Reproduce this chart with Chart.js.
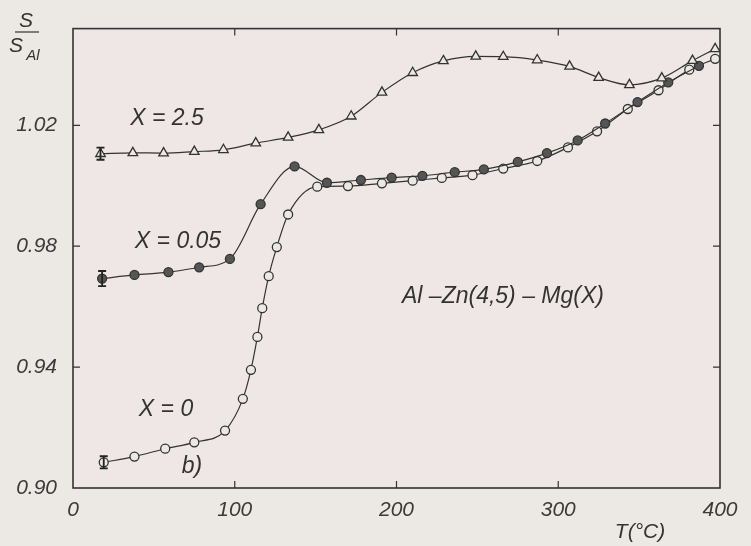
<!DOCTYPE html>
<html>
<head>
<meta charset="utf-8">
<script src="https://cdn.jsdelivr.net/npm/chart.js@4.4.1/dist/chart.umd.min.js"></script>
<style>
  body { margin: 0; background: #ece9e5; }
  canvas { display: block; }
</style>
</head>
<body>
<canvas id="sChart" width="751" height="546"></canvas>
<script>
// tick labels
const xTicks = [0, 100, 200, 300, 400];
const yTicks = [0.90, 0.94, 0.98, 1.02];

// X = 2.5 (triangles)
const tT25 = [17, 37, 56, 75, 93, 113, 133, 152, 172, 191, 210, 229, 249, 266, 287, 307, 325, 344, 364, 383, 397];
const s25 = [1.0106, 1.0109, 1.0108, 1.0113, 1.0119, 1.0141, 1.0160, 1.0185, 1.0230, 1.0309, 1.0374, 1.0413, 1.0428, 1.0427, 1.0416, 1.0395, 1.0358, 1.0334, 1.0356, 1.0414, 1.0453];

// X = 0.05 (filled circles)
const tT005 = [18, 38, 59, 78, 97, 116, 137, 157, 178, 197, 216, 236, 254, 275, 293, 312, 329, 349, 368, 387];
const s005 = [0.9693, 0.9705, 0.9714, 0.9730, 0.9758, 0.9939, 1.0064, 1.0010, 1.0019, 1.0027, 1.0033, 1.0045, 1.0054, 1.0079, 1.0108, 1.0150, 1.0206, 1.0277, 1.0342, 1.0397];

// X = 0 (open circles)
const tT0 = [19, 38, 57, 75, 94, 105, 110, 114, 117, 121, 126, 133, 151, 170, 191, 210, 228, 247, 266, 287, 306, 324, 343, 362, 381, 397];
const s0 = [0.9085, 0.9104, 0.9130, 0.9151, 0.9190, 0.9295, 0.9391, 0.9500, 0.9595, 0.9701, 0.9797, 0.9905, 0.9997, 0.9999, 1.0008, 1.0017, 1.0026, 1.0035, 1.0057, 1.0082, 1.0127, 1.0180, 1.0254, 1.0316, 1.0384, 1.0420];

// error bar half-length on the first point of each series
const errFirst = [0.002, 0.0025, 0.002];

const ink = '#333';
const paper = '#ece9e5';
const font = '"Liberation Sans", Arial, sans-serif';

function pts(xs, ys) { return xs.map((x, i) => ({ x, y: ys[i] })); }

function series(xs, ys, style, radius, fill) {
    return {
        data: pts(xs, ys),
        showLine: true,
        borderColor: ink,
        borderWidth: 1.2,
        cubicInterpolationMode: 'monotone',
        pointStyle: style,
        pointRadius: radius,
        pointBorderWidth: 1.3,
        pointBorderColor: ink,
        pointBackgroundColor: fill
    };
}

const frame = {
    id: 'frame',
    beforeDatasetsDraw(chart) {
        const { ctx, chartArea: a, scales: { x, y } } = chart;
        ctx.save();
        ctx.fillStyle = '#eee7e5';
        ctx.fillRect(a.left, a.top, a.right - a.left, a.bottom - a.top);
        ctx.strokeStyle = ink;
        ctx.lineWidth = 1.6;
        ctx.strokeRect(a.left, a.top, a.right - a.left, a.bottom - a.top);
        ctx.lineWidth = 1.2;
        ctx.beginPath();
        xTicks.slice(1, -1).forEach(v => {
            const px = x.getPixelForValue(v);
            ctx.moveTo(px, a.bottom); ctx.lineTo(px, a.bottom - 7);
            ctx.moveTo(px, a.top); ctx.lineTo(px, a.top + 7);
        });
        yTicks.slice(1).forEach(v => {
            const py = y.getPixelForValue(v);
            ctx.moveTo(a.left, py); ctx.lineTo(a.left + 7, py);
            ctx.moveTo(a.right, py); ctx.lineTo(a.right - 7, py);
        });
        ctx.stroke();
        ctx.restore();
    },
    afterDatasetsDraw(chart) {
        const { ctx, scales: { x, y } } = chart;
        ctx.save();
        ctx.strokeStyle = '#222';
        ctx.lineWidth = 1.8;
        [[tT25, s25], [tT005, s005], [tT0, s0]].forEach(([xs, ys], i) => {
            const px = x.getPixelForValue(xs[0]);
            const y1 = y.getPixelForValue(ys[0] + errFirst[i]);
            const y2 = y.getPixelForValue(ys[0] - errFirst[i]);
            ctx.beginPath();
            ctx.moveTo(px, y1); ctx.lineTo(px, y2);
            ctx.moveTo(px - 4, y1); ctx.lineTo(px + 4, y1);
            ctx.moveTo(px - 4, y2); ctx.lineTo(px + 4, y2);
            ctx.stroke();
        });
        ctx.restore();
    },
    afterDraw(chart) {
        const { ctx } = chart;
        ctx.save();
        ctx.fillStyle = ink;
        ctx.textBaseline = 'middle';
        ctx.textAlign = 'center';
        ctx.font = `italic 23px ${font}`;
        ctx.fillText('X = 2.5', 167, 119);
        ctx.fillText('X = 0.05', 178, 242);
        ctx.fillText('X = 0', 166, 410);
        ctx.fillText('b)', 192, 467);
        ctx.textAlign = 'left';
        ctx.fillText('Al \u2013Zn(4,5) \u2013 Mg(X)', 402, 297);
        ctx.textAlign = 'center';
        ctx.font = `italic 21px ${font}`;
        ctx.fillText('T(\u00b0C)', 640, 532);
        // y title: S / S_Al
        ctx.fillText('S', 26, 21);
        ctx.fillText('S', 16, 46);
        ctx.font = `italic 15px ${font}`;
        ctx.fillText('Al', 33, 56);
        ctx.strokeStyle = ink;
        ctx.lineWidth = 1.2;
        ctx.beginPath();
        ctx.moveTo(15, 32); ctx.lineTo(39, 32);
        ctx.stroke();
        ctx.restore();
    }
};

const tickFont = { family: font, size: 21, style: 'italic' };

new Chart(document.getElementById('sChart').getContext('2d'), {
    type: 'scatter',
    data: {
        datasets: [
            series(tT25, s25, 'triangle', 5.5, paper),
            series(tT005, s005, 'circle', 4.5, '#555'),
            series(tT0, s0, 'circle', 4.5, paper)
        ]
    },
    options: {
        responsive: false,
        animation: false,
        layout: { padding: { top: 28, right: 31, left: 0, bottom: 0 } },
        plugins: { legend: { display: false }, tooltip: { enabled: false } },
        scales: {
            x: {
                type: 'linear', min: 0, max: 400,
                afterBuildTicks: s => { s.ticks = xTicks.map(v => ({ value: v })); },
                afterFit: s => { s.height = 58; },
                grid: { display: false, drawTicks: false },
                border: { display: false },
                ticks: { font: tickFont, color: '#3a3a3a', padding: 10, maxRotation: 0 }
            },
            y: {
                type: 'linear', min: 0.90, max: 1.052,
                afterBuildTicks: s => { s.ticks = yTicks.map(v => ({ value: v })); },
                afterFit: s => { s.width = 73; },
                grid: { display: false, drawTicks: false },
                border: { display: false },
                ticks: { font: tickFont, color: '#3a3a3a', padding: 16, callback: v => v.toFixed(2) }
            }
        }
    },
    plugins: [frame]
});
</script>
</body>
</html>
